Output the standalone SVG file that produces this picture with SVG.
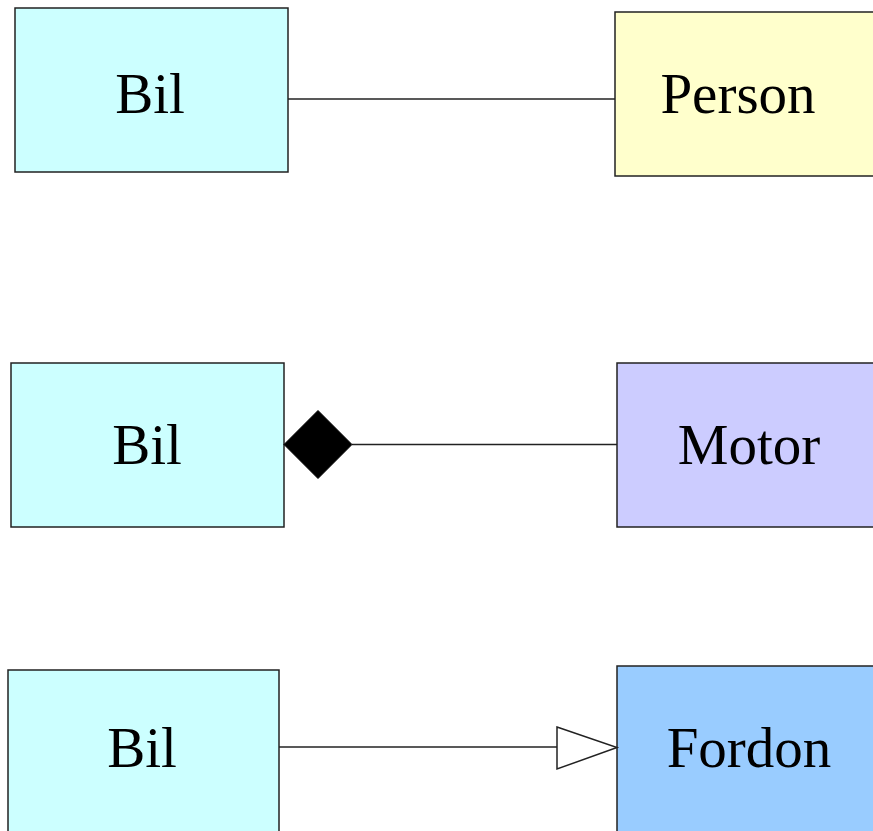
<svg xmlns="http://www.w3.org/2000/svg" width="873" height="831" viewBox="0 0 873 831">
<style>
.box{stroke:#222;stroke-width:1.5}
.lbl{font-family:"Liberation Serif","Times New Roman",serif;font-size:57px;fill:#000;text-anchor:middle}
.con{stroke:#222;stroke-width:1.5;fill:none}
</style>
<rect width="873" height="831" fill="#fff"/>
<g id="bil1"><rect class="box" x="15" y="8" width="273" height="164" fill="#CCFFFF"/><text class="lbl" x="150" y="113">Bil</text></g>
<g id="person"><rect class="box" x="615" y="12" width="270" height="164" fill="#FFFFCC"/><text class="lbl" x="738" y="113">Person</text></g>
<g id="bil2"><rect class="box" x="11" y="363" width="273" height="164" fill="#CCFFFF"/><text class="lbl" x="147" y="464">Bil</text></g>
<g id="motor"><rect class="box" x="617" y="363" width="270" height="164" fill="#CCCCFF"/><text class="lbl" x="749" y="464">Motor</text></g>
<g id="bil3"><rect class="box" x="8" y="670" width="271" height="175" fill="#CCFFFF"/><text class="lbl" x="142" y="767">Bil</text></g>
<g id="fordon"><rect class="box" x="617" y="666" width="270" height="180" fill="#99CCFF"/><text class="lbl" x="749" y="767">Fordon</text></g>
<g id="connectors">
<line class="con" x1="288" y1="99" x2="615" y2="99"/>
<line class="con" x1="352" y1="444.5" x2="617" y2="444.5"/>
<polygon points="284,444.5 318,410.5 352,444.5 318,478.5" fill="#000" stroke="#000" stroke-width="1"/>
<line class="con" x1="279" y1="747" x2="557" y2="747"/>
<polygon points="557,727 617,747.5 557,769" fill="#fff" stroke="#222" stroke-width="1.5"/>
</g>
</svg>
